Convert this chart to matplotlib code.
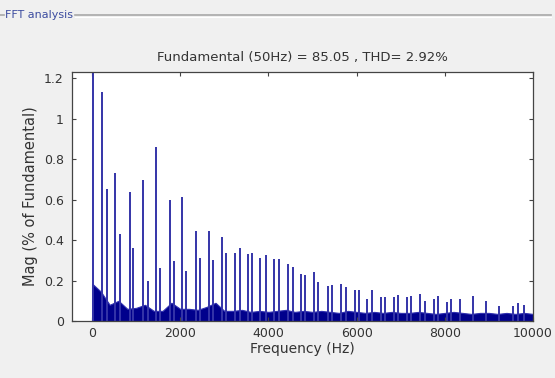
import matplotlib
matplotlib.use('Agg')
import matplotlib.pyplot as plt
from matplotlib.lines import Line2D
import numpy as np

# harmonic peaks (Hz, % of fundamental)
harm_freq = [20, 230, 340, 530, 645, 850, 940, 1145, 1260, 1450, 1530, 1760, 1850,
             2050, 2140, 2350, 2440, 2645, 2740, 2950, 3045, 3240, 3360, 3545, 3635,
             3820, 3940, 4130, 4245, 4450, 4555, 4730, 4840, 5030, 5130, 5350, 5445,
             5635, 5750, 5955, 6055, 6240, 6355, 6545, 6635, 6850, 6950, 7135, 7245,
             7440, 7545, 7745, 7850, 8045, 8150, 8340, 8630, 8930, 9235, 9540, 9655, 9805]
harm_mag = [1.25, 1.13, 0.65, 0.73, 0.43, 0.635, 0.36, 0.695, 0.2, 0.86, 0.26, 0.6, 0.295,
            0.615, 0.245, 0.445, 0.31, 0.445, 0.30, 0.415, 0.335, 0.335, 0.36, 0.33, 0.335,
            0.31, 0.325, 0.305, 0.305, 0.28, 0.265, 0.23, 0.225, 0.24, 0.195, 0.175, 0.18,
            0.185, 0.17, 0.155, 0.155, 0.11, 0.155, 0.12, 0.12, 0.12, 0.13, 0.12, 0.125,
            0.135, 0.10, 0.11, 0.125, 0.095, 0.11, 0.11, 0.125, 0.10, 0.075, 0.075, 0.09, 0.08]

# noise floor envelope, every 200 Hz
noise_freq = list(range(0, 10001, 200))
noise_mag = [0.185, 0.145, 0.08, 0.10, 0.06, 0.065, 0.08, 0.05, 0.05, 0.09,
             0.06, 0.06, 0.055, 0.07, 0.09, 0.05, 0.05, 0.055, 0.045, 0.05,
             0.045, 0.05, 0.055, 0.045, 0.05, 0.045, 0.05, 0.045, 0.04, 0.05,
             0.045, 0.04, 0.045, 0.04, 0.045, 0.04, 0.04, 0.045, 0.04, 0.035,
             0.04, 0.045, 0.04, 0.035, 0.04, 0.04, 0.035, 0.04, 0.035, 0.04, 0.035]

title = 'Fundamental (50Hz) = 85.05 , THD= 2.92%'

bg = '#f0f0f0'
navy = '#00008c'
txt = '#333333'

fig = plt.figure(figsize=(5.55, 3.78), dpi=100, facecolor=bg)
ax = fig.add_axes([0.1297, 0.1508, 0.8306, 0.6587])
ax.set_facecolor('white')

ax.fill_between(noise_freq, 0, noise_mag, color=navy, lw=0.8, edgecolor='#3030b0')
ax.vlines(harm_freq, 0, harm_mag, color='#3434a8', lw=1.4)

ax.set_xlim(-455, 10000)
ax.set_ylim(0, 1.23)
ax.set_xticks([0, 2000, 4000, 6000, 8000, 10000])
ax.set_yticks([0, 0.2, 0.4, 0.6, 0.8, 1, 1.2])
ax.set_yticklabels(['0', '0.2', '0.4', '0.6', '0.8', '1', '1.2'])
ax.tick_params(direction='in', length=3, top=True, right=True, labelsize=9,
               colors='#444444', labelcolor=txt, pad=4)
ax.tick_params(axis='y', pad=6)
for s in ax.spines.values():
    s.set_color('#444444')
    s.set_linewidth(0.9)

ax.set_title(title, fontsize=9.5, color=txt, pad=8)
ax.set_xlabel('Frequency (Hz)', fontsize=10, color=txt, labelpad=2)
ax.set_ylabel('Mag (% of Fundamental)', fontsize=10.5, color=txt, labelpad=4)

# group box frame around the plot
fig.text(5 / 555, 1 - 15 / 378, 'FFT analysis', fontsize=8, color='#3c4ca0',
         va='center', ha='left')
fig.add_artist(Line2D([75 / 555, 551 / 555], [1 - 15 / 378] * 2, color='#a8a8a8', lw=1.2))
fig.add_artist(Line2D([75 / 555, 551 / 555], [1 - 16.5 / 378] * 2, color='white', lw=0.8))
fig.add_artist(Line2D([0, 4 / 555], [1 - 15 / 378] * 2, color='#a8a8a8', lw=1.2))

fig.savefig('out.png', dpi=100, facecolor=bg)
